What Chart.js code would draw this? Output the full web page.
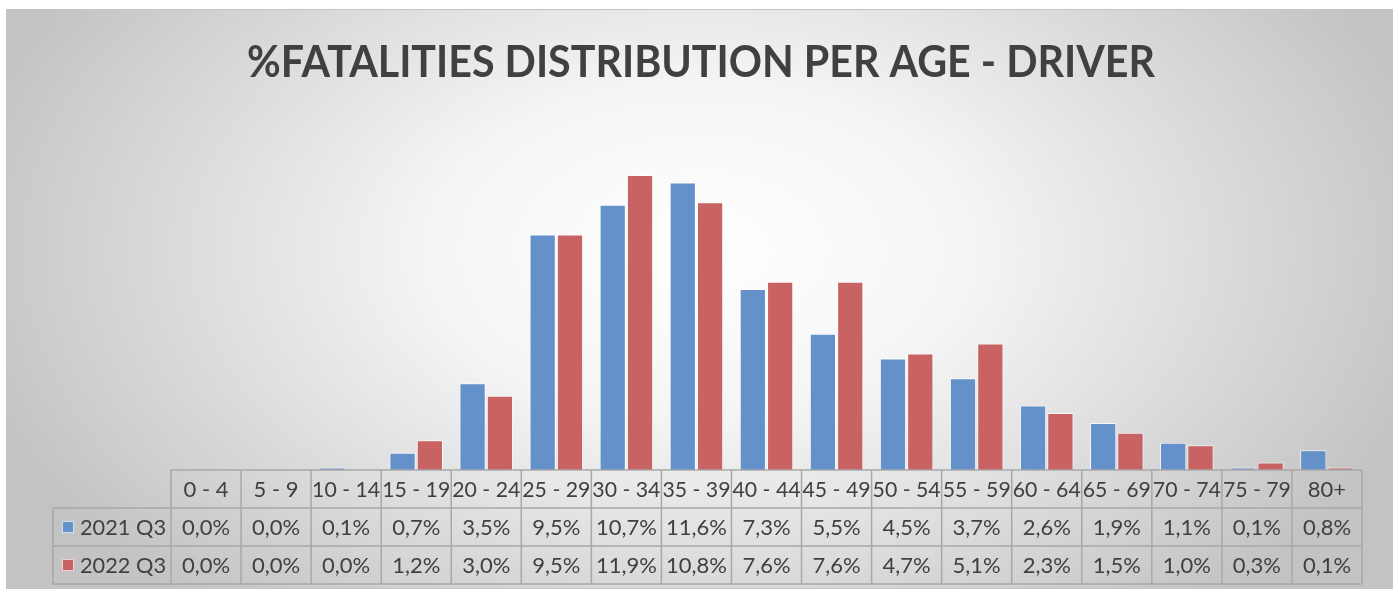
<!DOCTYPE html>
<html>
<head>
<meta charset="utf-8">
<script src="https://cdn.jsdelivr.net/npm/chart.js@4/dist/chart.umd.min.js"></script>
<style>
  html, body { margin: 0; padding: 0; background: #fff; }
  #wrap { width: 1398px; height: 592px; position: relative; }
</style>
</head>
<body>
<div id="wrap"><canvas id="fatalities"></canvas></div>
<script>
const ageGroups = ['0 - 4', '5 - 9', '10 - 14', '15 - 19', '20 - 24', '25 - 29', '30 - 34', '35 - 39',
  '40 - 44', '45 - 49', '50 - 54', '55 - 59', '60 - 64', '65 - 69', '70 - 74', '75 - 79', '80+'];
const q3of2021 = [0.0, 0.0, 0.1, 0.7, 3.5, 9.5, 10.7, 11.6, 7.3, 5.5, 4.5, 3.7, 2.6, 1.9, 1.1, 0.1, 0.8];
const q3of2022 = [0.0, 0.0, 0.0, 1.2, 3.0, 9.5, 11.9, 10.8, 7.6, 7.6, 4.7, 5.1, 2.3, 1.5, 1.0, 0.3, 0.1];
const seriesNames = ['2021 Q3', '2022 Q3'];
const seriesColors = ['#6491c9', '#c96262'];

const TEXT = '#404040';
const LINE = '#a8a8a8';
const fmt = v => v.toFixed(1).replace('.', ',') + '%';

// panel background with soft radial shading + title
const backdrop = {
  id: 'backdrop',
  beforeDraw(chart) {
    const { ctx, width, height } = chart;
    ctx.save();
    ctx.fillStyle = '#fff';
    ctx.fillRect(0, 0, width, height);
    ctx.beginPath();
    ctx.rect(6, 9, 1387, 580);
    ctx.clip();
    ctx.translate(700, 250);
    ctx.scale(1, 0.62);
    const g = ctx.createRadialGradient(0, 0, 0, 0, 0, 760);
    g.addColorStop(0, '#ffffff');
    g.addColorStop(0.35, '#f5f5f5');
    g.addColorStop(1, '#c3c3c3');
    ctx.fillStyle = g;
    ctx.fillRect(-800, -800, 1600, 1600);
    ctx.restore();

    ctx.save();
    ctx.strokeStyle = '#c4c4c4';
    ctx.lineWidth = 1;
    ctx.strokeRect(6.5, 9.5, 1386, 579);
    ctx.fillStyle = TEXT;
    ctx.font = 'bold 43px Lato';
    ctx.textAlign = 'center';
    ctx.textBaseline = 'middle';
    ctx.fillText('%FATALITIES DISTRIBUTION PER AGE - DRIVER', 701, 63, 908);
    ctx.restore();
  }
};

// data table under the bars, columns follow the category scale
const dataTable = {
  id: 'dataTable',
  afterDraw(chart) {
    const { ctx } = chart;
    const x = chart.scales.x;
    const n = ageGroups.length;
    const colW = x.width / n;
    const left = x.left, right = x.right;
    const top = chart.chartArea.bottom;
    const rowH = 38;
    const legendLeft = 53;
    ctx.save();
    ctx.strokeStyle = LINE;
    ctx.lineWidth = 1.5;
    ctx.beginPath();
    // horizontal lines
    ctx.moveTo(left, top); ctx.lineTo(right, top);
    for (let r = 1; r <= 3; r++) {
      ctx.moveTo(legendLeft, top + r * rowH); ctx.lineTo(right, top + r * rowH);
    }
    // vertical lines
    for (let i = 0; i <= n; i++) {
      const cx = left + i * colW;
      ctx.moveTo(cx, top); ctx.lineTo(cx, top + 3 * rowH);
    }
    ctx.moveTo(legendLeft, top + rowH); ctx.lineTo(legendLeft, top + 3 * rowH);
    ctx.stroke();

    ctx.fillStyle = TEXT;
    ctx.font = '22px Lato';
    ctx.textAlign = 'center';
    ctx.textBaseline = 'middle';
    const rows = [q3of2021, q3of2022];
    ageGroups.forEach((lab, i) => {
      const cx = x.getPixelForValue(i);
      ctx.fillText(lab, cx, top + rowH / 2 + 1, colW - 2);
      rows.forEach((vals, r) => {
        ctx.fillText(fmt(vals[i]), cx, top + rowH * (r + 1.5) + 1, colW - 4);
      });
    });

    // legend keys in the row headers
    ctx.textAlign = 'left';
    seriesNames.forEach((name, r) => {
      const cy = top + rowH * (r + 1.5);
      ctx.fillStyle = seriesColors[r];
      ctx.fillRect(62, cy - 6, 12, 12);
      ctx.strokeStyle = 'rgba(255,255,255,0.7)';
      ctx.lineWidth = 1;
      ctx.strokeRect(62.5, cy - 5.5, 11, 11);
      ctx.fillStyle = TEXT;
      ctx.fillText(name, 80, cy + 1, 86);
    });
    ctx.restore();
  }
};

new Chart(document.getElementById('fatalities'), {
  type: 'bar',
  data: {
    labels: ageGroups,
    datasets: [
      { label: seriesNames[0], data: q3of2021, backgroundColor: seriesColors[0] },
      { label: seriesNames[1], data: q3of2022, backgroundColor: seriesColors[1] }
    ]
  },
  options: {
    responsive: true,
    maintainAspectRatio: false,
    animation: false,
    layout: { padding: { left: 171, right: 36, top: 123, bottom: 122 } },
    datasets: {
      bar: {
        categoryPercentage: 0.78,
        barPercentage: 0.96,
        borderWidth: 1,
        borderColor: 'rgba(255,255,255,0.75)'
      }
    },
    plugins: {
      legend: { display: false },
      title: { display: false },
      tooltip: { enabled: false }
    },
    scales: {
      x: { display: false, grid: { display: false } },
      y: { display: false, min: 0, max: 14, grid: { display: false } }
    }
  },
  plugins: [backdrop, dataTable]
});
</script>
</body>
</html>
